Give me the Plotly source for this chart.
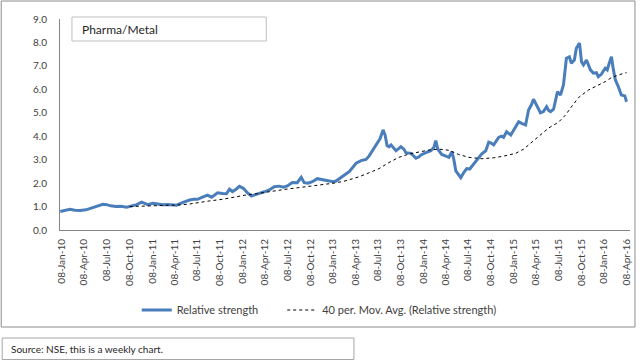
import plotly.graph_objects as go

rs_dates = [
    "2010-01-01","2010-01-20","2010-02-09","2010-03-01","2010-03-22","2010-04-15","2010-05-05","2010-05-29","2010-06-22","2010-07-08",
    "2010-07-24","2010-08-14","2010-09-03","2010-09-27","2010-10-17","2010-11-06","2010-11-26","2010-12-13","2010-12-21",
    "2011-01-10","2011-01-30","2011-02-19","2011-03-11","2011-03-31","2011-04-16","2011-05-07","2011-05-27","2011-06-08","2011-06-24",
    "2011-07-10","2011-07-30","2011-08-19","2011-09-05","2011-09-17","2011-09-29","2011-10-19","2011-11-04","2011-11-16","2011-11-28",
    "2011-12-14","2011-12-26",
    "2012-01-11","2012-01-28","2012-02-13","2012-02-29","2012-03-16","2012-04-05","2012-04-25","2012-05-15","2012-06-05","2012-06-21",
    "2012-07-07","2012-07-27","2012-08-16","2012-09-01","2012-09-13","2012-09-29","2012-10-16","2012-11-05","2012-11-21","2012-12-03",
    "2012-12-23",
    "2013-01-08","2013-01-20","2013-02-13","2013-03-02","2013-03-14","2013-03-30","2013-04-11","2013-05-01","2013-05-21","2013-06-02",
    "2013-06-14","2013-07-04","2013-07-17","2013-07-29","2013-08-06","2013-08-14","2013-08-22","2013-08-30","2013-09-11","2013-09-19",
    "2013-10-01","2013-10-09","2013-10-21","2013-10-29","2013-11-19","2013-12-01","2013-12-09","2013-12-21","2013-12-29",
    "2014-01-18","2014-02-07","2014-02-19","2014-02-27","2014-03-07","2014-03-23","2014-04-09","2014-04-21","2014-05-03","2014-05-11",
    "2014-05-19","2014-05-31","2014-06-08","2014-06-20","2014-07-02","2014-07-14","2014-07-30","2014-08-20","2014-09-01","2014-09-17",
    "2014-09-29","2014-10-07","2014-10-19","2014-11-08","2014-11-20","2014-11-28","2014-12-10","2014-12-27",
    "2015-01-08","2015-01-16","2015-01-28","2015-02-09","2015-02-25","2015-03-09","2015-03-21","2015-03-29","2015-04-10","2015-04-26",
    "2015-05-08","2015-05-21","2015-05-29","2015-06-06","2015-06-18","2015-06-26","2015-07-04","2015-07-16","2015-07-28","2015-08-09",
    "2015-08-21","2015-08-29","2015-09-10","2015-09-18","2015-10-01","2015-10-09","2015-10-17","2015-10-29","2015-11-14","2015-11-26",
    "2015-12-08","2015-12-16","2015-12-28",
    "2016-01-13","2016-01-21","2016-01-29","2016-02-07","2016-02-15","2016-02-23","2016-03-06","2016-03-18","2016-04-01","2016-04-08",
]
rs_values = [
    0.79, 0.82, 0.88, 0.84, 0.83, 0.86, 0.94, 1.02, 1.10, 1.08,
    1.03, 1.00, 1.01, 0.97, 1.01, 1.08, 1.19, 1.12, 1.08,
    1.14, 1.10, 1.08, 1.09, 1.07, 1.06, 1.16, 1.24, 1.28, 1.31,
    1.31, 1.40, 1.49, 1.40, 1.50, 1.59, 1.56, 1.55, 1.74, 1.64,
    1.75, 1.86,
    1.78, 1.58, 1.45, 1.52, 1.56, 1.63, 1.71, 1.85, 1.87, 1.83,
    1.88, 2.03, 2.02, 2.25, 2.02, 2.00, 2.06, 2.19, 2.16, 2.13,
    2.08,
    2.06, 2.09, 2.25, 2.40, 2.49, 2.67, 2.85, 2.96, 3.01, 3.15,
    3.34, 3.67, 3.90, 4.27, 4.05, 3.60, 3.55, 3.63, 3.45, 3.38,
    3.48, 3.55, 3.45, 3.30, 3.27, 3.15, 3.06, 3.12, 3.20,
    3.30, 3.38, 3.52, 3.81, 3.45, 3.22, 3.15, 3.10, 3.34, 3.00,
    2.52, 2.35, 2.23, 2.45, 2.62, 2.60, 2.82, 3.10, 3.25, 3.38,
    3.75, 3.72, 3.63, 3.95, 4.00, 3.95, 4.19, 4.05,
    4.25, 4.38, 4.62, 4.55, 4.48, 5.12, 5.35, 5.58, 5.33, 5.00,
    5.05, 5.26, 5.10, 5.05, 5.15, 5.47, 5.90, 5.76, 6.19, 7.33,
    7.39, 7.11, 7.25, 7.75, 7.97, 7.18, 7.04, 7.25, 6.83, 6.69,
    6.71, 6.54, 6.64,
    6.90, 6.83, 7.11, 7.39, 6.83, 6.40, 6.11, 5.76, 5.72, 5.47,
]

ma_dates = [
    "2010-10-09","2010-11-18","2010-12-29","2011-02-07","2011-03-19","2011-04-29","2011-06-08","2011-07-18","2011-08-27","2011-10-19",
    "2011-11-28","2012-01-15","2012-03-04","2012-04-13","2012-06-05","2012-07-15","2012-08-24","2012-10-03","2012-11-13","2013-01-12",
    "2013-02-21","2013-03-26","2013-04-23","2013-06-02","2013-07-13","2013-08-22","2013-10-01","2013-11-10","2013-12-21","2014-01-30",
    "2014-03-11","2014-04-21","2014-05-31","2014-07-10","2014-09-01","2014-10-19","2014-11-28","2015-01-16","2015-02-17","2015-03-09",
    "2015-04-06","2015-04-30","2015-05-29","2015-07-08","2015-08-05","2015-08-29","2015-09-27","2015-11-06","2015-12-16","2016-01-13",
    "2016-02-07","2016-03-06","2016-03-26","2016-04-08",
]
ma_values = [
    1.00, 1.01, 1.02, 1.04, 1.05, 1.07, 1.11, 1.18, 1.24, 1.31,
    1.40, 1.48, 1.55, 1.62, 1.70, 1.76, 1.81, 1.86, 1.90, 2.00,
    2.08, 2.17, 2.27, 2.44, 2.62, 2.88, 3.10, 3.24, 3.34, 3.41,
    3.45, 3.40, 3.22, 3.10, 3.04, 3.08, 3.15, 3.27, 3.45, 3.63,
    3.85, 4.10, 4.35, 4.60, 4.90, 5.25, 5.65, 5.97, 6.17, 6.33,
    6.50, 6.62, 6.68, 6.71,
]

tick_dates = [
    "2010-01-08","2010-04-08","2010-07-08","2010-10-08","2011-01-08","2011-04-08","2011-07-08","2011-10-08",
    "2012-01-08","2012-04-08","2012-07-08","2012-10-08","2013-01-08","2013-04-08","2013-07-08","2013-10-08",
    "2014-01-08","2014-04-08","2014-07-08","2014-10-08","2015-01-08","2015-04-08","2015-07-08","2015-10-08",
    "2016-01-08","2016-04-08",
]
tick_labels = [
    "08-Jan-10","08-Apr-10","08-Jul-10","08-Oct-10","08-Jan-11","08-Apr-11","08-Jul-11","08-Oct-11",
    "08-Jan-12","08-Apr-12","08-Jul-12","08-Oct-12","08-Jan-13","08-Apr-13","08-Jul-13","08-Oct-13",
    "08-Jan-14","08-Apr-14","08-Jul-14","08-Oct-14","08-Jan-15","08-Apr-15","08-Jul-15","08-Oct-15",
    "08-Jan-16","08-Apr-16",
]
y_ticks = [0, 1, 2, 3, 4, 5, 6, 7, 8, 9]

FONT = "Lato, 'Open Sans', sans-serif"
TXT = "#404040"
W, H = 640, 361
L, R, T, B = 60, 8, 19, 131
pw = W - L - R
ph = H - T - B


def px(x):
    return (x - L) / pw


def py(y):
    return (H - B - y) / ph


fig = go.Figure()
fig.add_trace(go.Scatter(
    x=rs_dates, y=rs_values, mode="lines", name="Relative strength",
    line=dict(color="#4A7EBB", width=3), legend="legend",
))
fig.add_trace(go.Scatter(
    x=ma_dates, y=ma_values, mode="lines", name="40 per. Mov. Avg. (Relative strength)",
    line=dict(color="#000000", width=1, dash="dot"), legend="legend2",
))

leg_common = dict(
    orientation="h", yanchor="middle", xanchor="left",
    font=dict(family=FONT, size=11, color=TXT), bgcolor="rgba(0,0,0,0)",
)

fig.update_layout(
    width=W, height=H,
    margin=dict(l=L, r=R, t=T, b=B),
    paper_bgcolor="white", plot_bgcolor="white",
    font=dict(family=FONT, size=10, color=TXT),
    showlegend=True,
    legend=dict(x=px(137), y=py(310), **leg_common),
    legend2=dict(x=px(283), y=py(310), **leg_common),
    xaxis=dict(
        type="date", range=["2009-12-31", "2016-04-22"],
        tickmode="array", tickvals=tick_dates, ticktext=tick_labels,
        tickangle=-90, tickfont=dict(family=FONT, size=10, color=TXT),
        showgrid=False, zeroline=False, showline=True, linecolor="#868686", linewidth=1,
        ticks="", ticklen=0, ticklabelstandoff=4,
    ),
    yaxis=dict(
        range=[0, 9], tickmode="array", tickvals=y_ticks, tickformat=".1f",
        tickfont=dict(family=FONT, size=10, color=TXT),
        showgrid=False, zeroline=False, showline=True, linecolor="#868686", linewidth=1,
        ticks="", ticklen=0, ticklabelstandoff=10,
    ),
    shapes=[
        dict(type="rect", xref="paper", yref="paper",
             x0=px(1), x1=px(637), y0=py(327), y1=py(1),
             line=dict(color="#8c8c8c", width=1), fillcolor="rgba(0,0,0,0)", layer="below"),
        dict(type="rect", xref="paper", yref="paper",
             x0=px(72), x1=px(267), y0=py(41), y1=py(17),
             line=dict(color="#bfbfbf", width=1), fillcolor="white", layer="below"),
        dict(type="rect", xref="paper", yref="paper",
             x0=px(2), x1=px(355), y0=py(359.5), y1=py(338),
             line=dict(color="#a6a6a6", width=1), fillcolor="white", layer="below"),
    ],
    annotations=[
        dict(text="Pharma/Metal", xref="paper", yref="paper", x=px(80), y=py(29),
             xanchor="left", yanchor="middle", showarrow=False,
             font=dict(family=FONT, size=12, color="#262626")),
        dict(text="Source: NSE, this is a weekly chart.", xref="paper", yref="paper",
             x=px(9), y=py(349), xanchor="left", yanchor="middle", showarrow=False,
             font=dict(family=FONT, size=10, color="#262626")),
    ],
)

fig.write_html(
    "out.html",
    config={"displayModeBar": False},
    post_script="document.body.style.margin='0';document.body.style.overflow='hidden';",
)
